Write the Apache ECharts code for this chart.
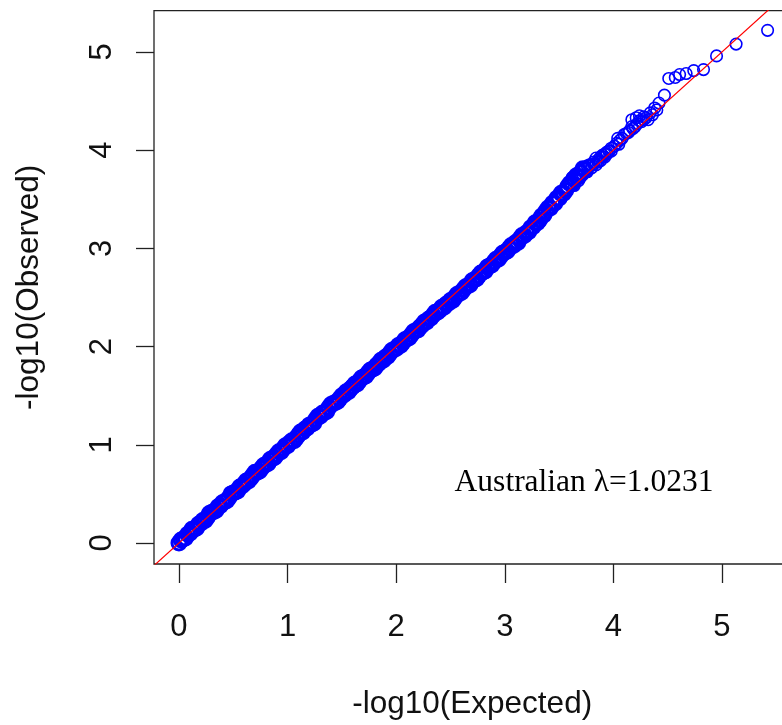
<!DOCTYPE html>
<html>
<head>
<meta charset="utf-8">
<script src="https://cdn.jsdelivr.net/npm/echarts@6/dist/echarts.min.js"></script>
<style>html,body{margin:0;padding:0;background:#fff}#chart{width:782px;height:725px}</style>
</head>
<body>
<div id="chart"></div>
<script>
// Dense part of the QQ plot: expected vs observed -log10(p)
const bandExpected = [
0.00,0.02,0.04,0.06,0.08,0.10,0.12,0.14,0.16,0.18,0.20,0.22,0.24,0.26,0.28,0.30,0.32,0.34,0.36,0.38,
0.40,0.42,0.44,0.46,0.48,0.50,0.52,0.54,0.56,0.58,0.60,0.62,0.64,0.66,0.68,0.70,0.72,0.74,0.76,0.78,
0.80,0.82,0.84,0.86,0.88,0.90,0.92,0.94,0.96,0.98,1.00,1.02,1.04,1.06,1.08,1.10,1.12,1.14,1.16,1.18,
1.20,1.22,1.24,1.26,1.28,1.30,1.32,1.34,1.36,1.38,1.40,1.42,1.44,1.46,1.48,1.50,1.52,1.54,1.56,1.58,
1.60,1.62,1.64,1.66,1.68,1.70,1.72,1.74,1.76,1.78,1.80,1.82,1.84,1.86,1.88,1.90,1.92,1.94,1.96,1.98,
2.00,2.02,2.04,2.06,2.08,2.10,2.12,2.14,2.16,2.18,2.20,2.22,2.24,2.26,2.28,2.30,2.32,2.34,2.36,2.38,
2.40,2.42,2.44,2.46,2.48,2.50,2.52,2.54,2.56,2.58,2.60,2.62,2.64,2.66,2.68,2.70,2.72,2.74,2.76,2.78,
2.80,2.82,2.84,2.86,2.88,2.90,2.92,2.94,2.96,2.98,3.00,3.02,3.04,3.06,3.08,3.10,3.12,3.14,3.16,3.18,
3.20,3.22,3.24,3.26,3.28,3.30,3.32,3.34,3.36,3.38,3.40,3.42,3.44,3.46,3.48,3.50,3.52,3.54,3.56,3.58,
3.60,3.62,3.64,3.66,3.68,3.70,3.72,3.74
];
const bandObserved = [
0.00,0.03,0.04,0.05,0.09,0.10,0.14,0.14,0.15,0.19,0.20,0.23,0.23,0.26,0.30,0.31,0.32,0.33,0.37,0.38,
0.41,0.42,0.43,0.46,0.50,0.51,0.52,0.53,0.57,0.58,0.60,0.63,0.63,0.66,0.69,0.72,0.72,0.73,0.76,0.79,
0.80,0.81,0.85,0.86,0.87,0.90,0.93,0.93,0.96,0.99,0.99,1.02,1.04,1.04,1.07,1.10,1.13,1.13,1.16,1.17,
1.20,1.21,1.22,1.26,1.29,1.29,1.32,1.33,1.34,1.38,1.41,1.42,1.43,1.44,1.47,1.50,1.51,1.54,1.54,1.57,
1.59,1.62,1.62,1.65,1.68,1.69,1.70,1.73,1.76,1.77,1.78,1.81,1.83,1.86,1.86,1.89,1.90,1.93,1.96,1.97,
1.98,2.01,2.01,2.04,2.07,2.08,2.09,2.12,2.15,2.16,2.17,2.20,2.22,2.25,2.25,2.28,2.29,2.32,2.35,2.35,
2.37,2.40,2.40,2.43,2.44,2.47,2.47,2.50,2.53,2.54,2.55,2.58,2.61,2.62,2.63,2.67,2.68,2.69,2.72,2.75,
2.76,2.77,2.81,2.82,2.83,2.86,2.89,2.89,2.92,2.95,2.96,2.97,3.00,3.03,3.03,3.06,3.06,3.10,3.13,3.13,
3.16,3.17,3.21,3.22,3.26,3.26,3.29,3.33,3.34,3.38,3.41,3.41,3.46,3.46,3.51,3.51,3.56,3.56,3.59,3.63,
3.66,3.66,3.71,3.74,3.73,3.77,3.81,3.80
];
// Upper part: sparser points drawn as individual circles
const tailExpected = [
3.76,3.78,3.80,3.82,3.84,3.86,3.88,3.90,3.92,3.94,3.96,3.98,
3.62,3.66,3.70,3.74,3.78,3.82,3.86,3.90,3.94,3.98,3.64,3.68,3.72,3.76,3.80,3.84,3.88,3.92,3.96,
4.01,4.04,4.06,4.08,4.10,4.12,4.15,4.17,4.20,4.17,4.21,4.24,4.28,4.32,4.34,4.36,4.38,4.40,4.42,4.47,
4.03,4.05,4.14,4.18,4.22,4.26,4.30,4.24,4.28,
4.51,4.57,4.61,4.67,4.74,4.83,4.95,5.13,5.42
];
const tailObserved = [
3.84,3.85,3.85,3.88,3.92,3.90,3.93,3.93,3.96,3.96,3.99,3.99,
3.72,3.70,3.74,3.82,3.84,3.86,3.88,3.95,3.98,4.02,3.64,3.69,3.75,3.78,3.82,3.85,3.89,3.93,3.99,
4.04,4.12,4.10,4.12,4.16,4.17,4.20,4.24,4.24,4.31,4.33,4.30,4.31,4.31,4.38,4.36,4.43,4.41,4.48,4.56,
4.07,4.06,4.18,4.22,4.27,4.29,4.33,4.35,4.34,
4.73,4.74,4.77,4.78,4.81,4.82,4.96,5.08,5.22
];
const xTicks = [0, 1, 2, 3, 4, 5];
const yTicks = [0, 1, 2, 3, 4, 5];
const refLine = [-1, 7];
const xTitle = '-log10(Expected)';
const yTitle = '-log10(Observed)';
const annotation = 'Australian \u03bb=1.0231';

const bandPts = bandExpected.map((e, i) => [e, bandObserved[i]]);
const tailPts = tailExpected.map((e, i) => [e, tailObserved[i]]);
const linePts = refLine.map(v => [v, v]);

const chart = echarts.init(document.getElementById('chart'), null, {renderer: 'canvas'});
const font = "'Liberation Sans', Arial, sans-serif";
chart.setOption({
  animation: false,
  backgroundColor: '#fff',
  grid: {
    left: 154, top: 10.7, width: 636.4, height: 553.3,
    outerBoundsMode: 'none', containLabel: false,
    show: true, borderColor: '#222', borderWidth: 1.3, backgroundColor: 'transparent'
  },
  xAxis: {
    type: 'value', min: -0.23, max: 5.63,
    axisLine: {show: false, onZero: false},
    splitLine: {show: false},
    axisTick: {show: true, inside: false, length: 19, customValues: xTicks, lineStyle: {color: '#222', width: 1.3}},
    axisLabel: {show: true, customValues: xTicks, margin: 48, color: '#111', fontSize: 31, fontFamily: font, formatter: v => String(v)},
    name: xTitle, nameLocation: 'middle', nameGap: 124,
    nameTextStyle: {color: '#111', fontSize: 31.5, fontFamily: font}
  },
  yAxis: {
    type: 'value', min: -0.214, max: 5.42,
    axisLine: {show: false, onZero: false},
    splitLine: {show: false},
    axisTick: {show: true, inside: false, length: 18, customValues: yTicks, lineStyle: {color: '#222', width: 1.3}},
    axisLabel: {show: true, customValues: yTicks, rotate: 90, margin: 36, color: '#111', fontSize: 31, fontFamily: font, formatter: v => String(v)},
    name: yTitle, nameLocation: 'middle', nameGap: 109, nameRotate: 90,
    nameTextStyle: {color: '#111', fontSize: 31.5, fontFamily: font}
  },
  series: [
    {
      type: 'scatter',
      data: bandPts,
      symbol: 'circle',
      symbolSize: 14,
      itemStyle: {color: 'rgba(0,0,0,0)', borderColor: '#0000ff', borderWidth: 3, opacity: 1},
      emphasis: {disabled: true},
      z: 2
    },
    {
      type: 'scatter',
      data: tailPts,
      symbol: 'circle',
      symbolSize: 11.5,
      itemStyle: {color: 'rgba(0,0,0,0)', borderColor: '#0000ff', borderWidth: 1.6, opacity: 1},
      emphasis: {disabled: true},
      z: 2
    },
    {
      type: 'line',
      data: linePts,
      symbol: 'none',
      lineStyle: {color: '#ff0000', width: 1.2},
      clip: true,
      z: 3
    }
  ],
  graphic: [
    {
      type: 'text', x: 584, y: 483,
      style: {text: annotation, fill: '#000', font: "31.5px 'Liberation Serif', 'Times New Roman', serif", textAlign: 'center', textVerticalAlign: 'middle'}
    }
  ]
});
</script>
</body>
</html>
